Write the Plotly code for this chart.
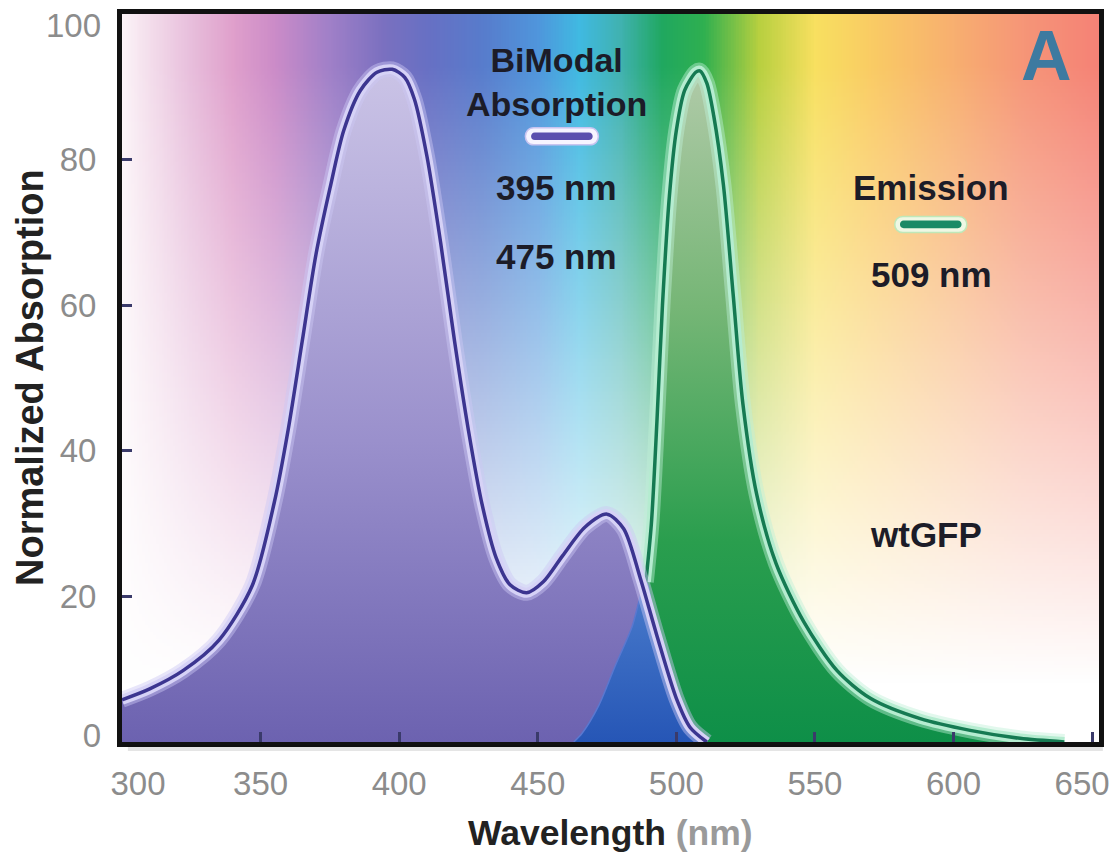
import numpy as np
import plotly.graph_objects as go

# ---------------- data ----------------
abs_nm = [300, 310, 322, 335, 347, 355, 360, 365, 370, 375, 380, 386, 392, 397.5, 402, 405.5,
          410, 415, 420, 425, 430, 435, 440, 446, 452, 459, 467, 475, 481, 487, 493, 500, 505, 511]
abs_val = [5.8, 7.3, 9.8, 14.0, 21.5, 33.0, 43.0, 55.0, 67.0, 76.0, 84.0, 89.5, 92.0, 92.4, 91.3, 88.3,
           80.5, 68.5, 55.0, 42.8, 32.5, 25.3, 21.6, 20.5, 22.0, 25.6, 29.5, 31.3, 29.3, 22.5, 14.6, 6.0, 2.0, 0.0]

em_nm = [463, 466, 472, 478, 484, 489, 491, 493, 495, 497.5, 500, 503, 507, 508.5, 511, 513.5,
         517, 520.5, 524, 529, 536, 546, 558, 570, 588, 606, 624, 640]
em_val = [0.0, 1.2, 5.0, 10.5, 15.8, 22.0, 30.0, 44.0, 60.0, 75.0, 84.0, 89.5, 92.0, 92.2, 90.5, 86.0,
          76.5, 61.5, 46.5, 34.0, 24.5, 16.5, 9.8, 6.0, 3.2, 1.6, 0.5, 0.0]

x_ticks = [300, 350, 400, 450, 500, 550, 600, 650]
y_ticks = [0, 20, 40, 60, 80, 100]

X_RANGE = [300, 652.5]
Y_RANGE = [0, 100]
X_CROSS = 489  # wavelength where the emission curve meets the absorption curve

# ---------------- background spectrum (decoration) ----------------
spec_nm = [300, 310, 325, 340, 355, 375, 395, 410, 430, 450, 465, 480, 495, 510, 530, 550, 570, 600, 625, 653]
spec_rgb = [(252, 244, 248), (244, 222, 236), (232, 190, 220), (224, 160, 204), (204, 140, 200),
            (160, 128, 200), (122, 112, 192), (104, 112, 196), (88, 124, 204), (80, 150, 220),
            (64, 186, 226), (64, 178, 176), (32, 168, 96), (48, 176, 80), (184, 208, 64),
            (248, 224, 96), (250, 204, 100), (248, 176, 112), (246, 150, 120), (245, 130, 118)]

cols = np.arange(X_RANGE[0], 654.0, 1.0)
rows = np.arange(0.0, 100.5, 0.5)
spec = np.array(spec_rgb, dtype=float)
col_rgb = np.stack([np.interp(cols, spec_nm, spec[:, k]) for k in range(3)], axis=1)
fade = np.clip((rows - 8.0) / 85.0, 0, 1)[:, None, None]
img = 255.0 * (1 - fade) + col_rgb[None, :, :] * fade
img = np.clip(img, 0, 255).astype(np.uint8)

FONT = "Liberation Sans"

fig = go.Figure()

fig.add_trace(go.Image(z=img, x0=cols[0], dx=1.0, y0=rows[0], dy=0.5,
                       colormodel="rgb", zsmooth="fast", hoverinfo="skip"))

SPL = dict(shape="spline", smoothing=0.8)

# emission fill
fig.add_trace(go.Scatter(
    x=em_nm, y=em_val, mode="lines", line=dict(width=0, **SPL), fill="tozeroy",
    fillgradient=dict(type="vertical", start=0, stop=92,
                      colorscale=[[0, "#0e8f48"], [0.3, "#2a9e4e"], [0.65, "#76b676"], [1, "#b0caa8"]]),
    hoverinfo="skip", showlegend=False))

# absorption fill
fig.add_trace(go.Scatter(
    x=abs_nm, y=abs_val, mode="lines", line=dict(width=0, **SPL), fill="tozeroy",
    fillgradient=dict(type="vertical", start=0, stop=92,
                      colorscale=[[0, "#6c62b0"], [0.45, "#9a90cc"], [1, "#cac3e6"]]),
    hoverinfo="skip", showlegend=False))

# overlap region
ov_x = [x for x in em_nm if x <= X_CROSS] + [x for x in abs_nm if x > X_CROSS]
ov_y = [y for x, y in zip(em_nm, em_val) if x <= X_CROSS] + [y for x, y in zip(abs_nm, abs_val) if x > X_CROSS]
fig.add_trace(go.Scatter(
    x=ov_x, y=ov_y, mode="lines", line=dict(width=1.5, color="#5a78d0", **SPL), fill="toself",
    fillgradient=dict(type="vertical", start=0, stop=22,
                      colorscale=[[0, "#2656b6"], [1, "#4a7ccc"]]),
    hoverinfo="skip", showlegend=False))

# emission outline (visible above the crossing)
em_top_x = [x for x in em_nm if x >= X_CROSS]
em_top_y = [y for x, y in zip(em_nm, em_val) if x >= X_CROSS]
for w, c in [(16, "rgba(190,240,215,0.45)"), (10, "#b5ecd0"), (3.5, "#157a52")]:
    fig.add_trace(go.Scatter(x=em_top_x, y=em_top_y, mode="lines",
                             line=dict(width=w, color=c, **SPL), hoverinfo="skip", showlegend=False))

# absorption outline
for w, c in [(16, "rgba(205,200,245,0.45)"), (10, "#d6d2f6"), (3.5, "#3c3590")]:
    fig.add_trace(go.Scatter(x=abs_nm, y=abs_val, mode="lines",
                             line=dict(width=w, color=c, **SPL), hoverinfo="skip", showlegend=False))

# empty traces so the helper axes (end tick labels pulled inward, as in the reference) are drawn
for xa, ya in [("x2", "y"), ("x3", "y"), ("x", "y2"), ("x", "y3")]:
    fig.add_trace(go.Scatter(x=[], y=[], xaxis=xa, yaxis=ya, hoverinfo="skip", showlegend=False))


def pill(cx, cy, L, r, fill, lc, lw):
    k = 1.333 * r
    path = (f"M {-L},{-r} L {L},{-r} C {L + k},{-r} {L + k},{r} {L},{r} "
            f"L {-L},{r} C {-L - k},{r} {-L - k},{-r} {-L},{-r} Z")
    return dict(type="path", xref="x", yref="y", xsizemode="pixel", ysizemode="pixel",
                xanchor=cx, yanchor=cy, path=path, fillcolor=fill, line=dict(color=lc, width=lw))


shapes = [
    pill(458.7, 83.2, 28, 8.5, "#f6f4ff", "#c8c4f0", 1.5),
    pill(458.7, 83.2, 27, 3.8, "#5b4fae", "#5b4fae", 0),
    pill(591.8, 71.1, 28, 8.0, "#eef8e4", "#bfe8b8", 1.5),
    pill(591.8, 71.1, 27, 3.8, "#1a8a66", "#1a8a66", 0),
    # soft shadow under the frame
    dict(type="rect", xref="paper", yref="paper", x0=0.006, x1=1.004,
         ysizemode="pixel", yanchor=0, y0=-3, y1=-9,
         fillcolor="rgba(0,0,0,0.10)", line=dict(width=0)),
]

TXT = dict(family=FONT, size=35, color="#1c1c28")
annotations = [
    dict(x=456.8, y=90.7, text="<b>BiModal<br>Absorption</b>", font=dict(family=FONT, size=34, color="#1c1c28")),
    dict(x=456.9, y=76.2, text="<b>395 nm</b>"),
    dict(x=456.9, y=66.7, text="<b>475 nm</b>"),
    dict(x=591.8, y=76.2, text="<b>Emission</b>"),
    dict(x=592.2, y=64.2, text="<b>509 nm</b>"),
    dict(x=590.0, y=28.5, text="<b>wtGFP</b>"),
]
for a in annotations:
    a.setdefault("font", TXT)
    a.update(xref="x", yref="y", showarrow=False, xanchor="center", yanchor="middle")
annotations.append(dict(x=633.6, y=94.3, xref="x", yref="y", text="<b>A</b>", showarrow=False,
                        font=dict(family=FONT, size=70, color="#3d7aa0"), xanchor="center", yanchor="middle"))
annotations.append(dict(x=0, y=0.5, xref="paper", yref="paper", xshift=-92, textangle=-90,
                        text="<b>Normalized Absorption</b>", showarrow=False,
                        font=dict(family=FONT, size=38, color="#222222"), xanchor="center", yanchor="middle"))
annotations.append(dict(x=0.5, y=0, xref="paper", yref="paper", yshift=-91,
                        text="<b>Wavelength</b> <span style='color:#9a9a9a'><b>(nm)</b></span>",
                        showarrow=False, font=dict(family=FONT, size=35.5, color="#222222"),
                        xanchor="center", yanchor="middle"))

TICKFONT = dict(family=FONT, size=33, color="#8c8c8c")
AX = dict(showgrid=False, zeroline=False, showline=True, mirror=True, linewidth=5, linecolor="#111111",
          ticks="inside", ticklen=10, tickwidth=2.5, tickcolor="#3a3a6a", automargin=False,
          ticklabeloverflow="allow", tickfont=TICKFONT)
HELP = dict(showgrid=False, zeroline=False, showline=False, ticks="", automargin=False,
            ticklabeloverflow="allow", tickfont=TICKFONT, fixedrange=True)

fig.update_layout(
    width=1111, height=859,
    margin=dict(l=122, r=12, t=14, b=117),
    paper_bgcolor="white", plot_bgcolor="white",
    showlegend=False,
    xaxis=dict(range=X_RANGE, tickvals=x_ticks,
               ticktext=["" if v in (x_ticks[0], x_ticks[-1]) else str(v) for v in x_ticks],
               ticklabelstandoff=8, **AX),
    xaxis2=dict(range=X_RANGE, overlaying="x", anchor="y", side="bottom", tickvals=[x_ticks[0]],
                ticktext=[str(x_ticks[0])], ticklabelshift=16, ticklabelstandoff=19, **HELP),
    xaxis3=dict(range=X_RANGE, overlaying="x", anchor="y", side="bottom", tickvals=[x_ticks[-1]],
                ticktext=[str(x_ticks[-1])], ticklabelshift=-10, ticklabelstandoff=19, **HELP),
    yaxis=dict(range=Y_RANGE, tickvals=y_ticks,
               ticktext=["" if v in (y_ticks[0], y_ticks[-1]) else str(v) for v in y_ticks],
               ticklabelstandoff=14, scaleanchor=False, autorange=False, **AX),
    yaxis2=dict(range=Y_RANGE, overlaying="y", anchor="x", side="left", tickvals=[y_ticks[0]],
                ticktext=[str(y_ticks[0])], ticklabelshift=-7, ticklabelstandoff=20, **HELP),
    yaxis3=dict(range=Y_RANGE, overlaying="y", anchor="x", side="left", tickvals=[y_ticks[-1]],
                ticktext=[str(y_ticks[-1])], ticklabelshift=11, ticklabelstandoff=20, **HELP),
    shapes=shapes,
    annotations=annotations,
)

fig.write_html("out.html", config={"displayModeBar": False},
               post_script="document.body.style.margin='0px';")
